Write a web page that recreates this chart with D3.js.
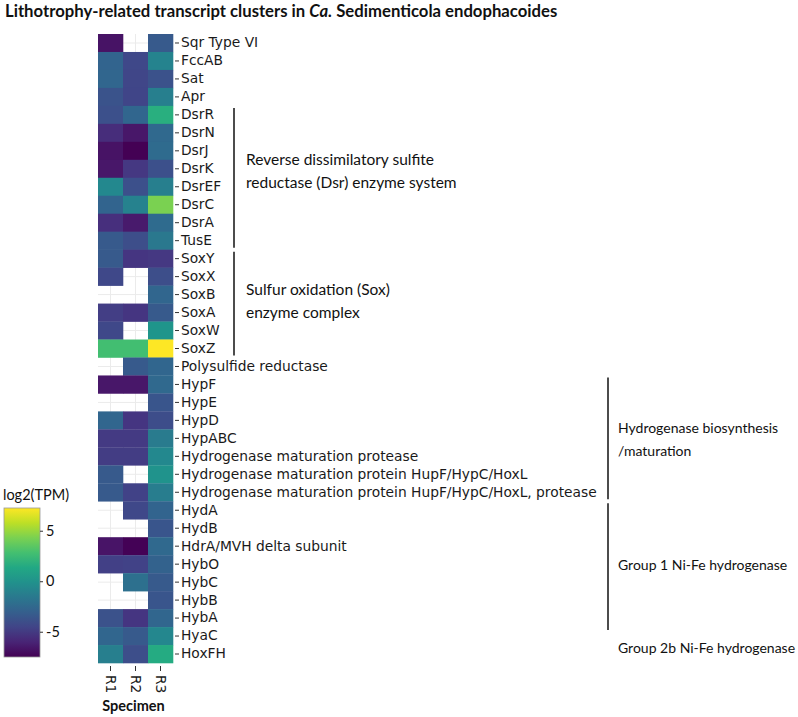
<!DOCTYPE html>
<html>
<head>
<meta charset="utf-8">
<script src="https://cdn.jsdelivr.net/npm/d3@7"></script>
<style>
  body { margin: 0; background: #fff; }
  svg { display: block; }
</style>
</head>
<body>
<div id="chart"></div>
<script>
// genes top to bottom
const genes = [
  "Sqr Type VI", "FccAB", "Sat", "Apr", "DsrR", "DsrN", "DsrJ", "DsrK", "DsrEF", "DsrC",
  "DsrA", "TusE", "SoxY", "SoxX", "SoxB", "SoxA", "SoxW", "SoxZ", "Polysulfide reductase",
  "HypF", "HypE", "HypD", "HypABC", "Hydrogenase maturation protease",
  "Hydrogenase maturation protein HupF/HypC/HoxL",
  "Hydrogenase maturation protein HupF/HypC/HoxL, protease",
  "HydA", "HydB", "HdrA/MVH delta subunit", "HybO", "HybC", "HybB", "HybA", "HyaC", "HoxFH"
];
const specimens = ["R1", "R2", "R3"];

// log2(TPM), null = not detected
const r1 = [-6.8, -2.8, -2.7, -3.7, -3.9, -5.6, -6.8, -6.6, -0.6, -2.8,
  -5.5, -3.4, -3.4, -4.3, null, -4.8, -4.3, 2.8, null,
  -6.6, null, -2.7, -5.0, -4.9, -3.4, -3.4,
  null, null, -6.7, -4.7, null, null, -3.8, -2.7, -1.2];
const r2 = [null, -4.3, -4.4, -4.5, -2.7, -6.6, -7.5, -5.1, -3.9, -1.0,
  -6.5, -4.0, -5.2, null, null, -5.2, null, 2.8, -3.4,
  -6.6, null, -5.2, -5.0, -4.9, null, -4.6,
  -4.3, null, -7.4, -4.6, -2.1, null, -5.2, -3.4, -4.0];
const r3 = [-3.4, -0.9, -3.8, -1.2, 1.8, -2.5, -2.4, -3.9, -1.2, 4.3,
  -2.4, -1.6, -5.1, -4.0, -2.7, -3.4, 0.2, 7.2, -2.7,
  -2.5, -3.6, -4.1, -1.4, -0.6, 0.1, -1.3,
  -2.8, -3.6, -2.5, -2.9, -3.4, -3.6, -2.7, -0.7, 1.5];
const series = [r1, r2, r3];

const colorDomain = [-7.5, 7.25];
const legendTicks = [5, 0, -5];

// bracket annotations: first gene, last gene, text lines, side
const groups = [
  {from: "DsrR", to: "TusE", lines: ["Reverse dissimilatory sulfite", "reductase (Dsr) enzyme system"], side: "left", shift: -6, size: 15.5},
  {from: "SoxY", to: "SoxZ", lines: ["Sulfur oxidation (Sox)", "enzyme complex"], side: "left", shift: -2, size: 15.5},
  {from: "HypF", to: "Hydrogenase maturation protein HupF/HypC/HoxL, protease", lines: ["Hydrogenase biosynthesis", "/maturation"], side: "right", shift: 1, size: 14},
  {from: "HydA", to: "HybA", lines: ["Group 1 Ni-Fe hydrogenase"], side: "right", shift: 1, size: 14, extend: 5},
  {from: "HyaC", to: "HoxFH", lines: ["Group 2b Ni-Fe hydrogenase"], side: "right", shift: 3, size: 14, noLine: true}
];

const W = 798, H = 717;
const panel = {left: 98, top: 34, width: 75, height: 629};

const svg = d3.select("#chart").append("svg")
  .attr("width", W).attr("height", H);

const x = d3.scaleBand().domain(specimens).range([panel.left, panel.left + panel.width]);
const y = d3.scaleBand().domain(genes).range([panel.top, panel.top + panel.height]);
const color = d3.scaleSequential(d3.interpolateViridis).domain(colorDomain);

// title
const title = svg.append("text")
  .attr("x", 5).attr("y", 17)
  .style("font-family", "Lato, 'Open Sans', sans-serif")
  .style("font-weight", "bold")
  .style("font-size", "16.7px")
  .style("fill", "#111");
title.append("tspan").text("Lithotrophy-related transcript clusters in ");
title.append("tspan").style("font-style", "italic").text("Ca.");
title.append("tspan").text(" Sedimenticola endophacoides");

// faint panel grid
const grid = svg.append("g");
grid.selectAll("line.h").data(genes).enter().append("line")
  .attr("x1", panel.left).attr("x2", panel.left + panel.width)
  .attr("y1", d => y(d) + y.bandwidth() / 2).attr("y2", d => y(d) + y.bandwidth() / 2)
  .style("stroke", "#ebebeb").style("stroke-width", 1);
grid.selectAll("line.v").data(specimens).enter().append("line")
  .attr("y1", panel.top).attr("y2", panel.top + panel.height)
  .attr("x1", d => x(d) + x.bandwidth() / 2).attr("x2", d => x(d) + x.bandwidth() / 2)
  .style("stroke", "#ebebeb").style("stroke-width", 1);

// cells
const cells = [];
specimens.forEach((s, j) => {
  genes.forEach((g, i) => {
    if (series[j][i] !== null) cells.push({gene: g, spec: s, v: series[j][i]});
  });
});
svg.append("g").selectAll("rect").data(cells).enter().append("rect")
  .attr("x", d => x(d.spec))
  .attr("y", d => y(d.gene))
  .attr("width", x.bandwidth() + 0.3)
  .attr("height", y.bandwidth() + 0.3)
  .style("fill", d => color(d.v));

// y axis on the right
const yAxis = svg.append("g")
  .attr("transform", "translate(" + (panel.left + panel.width + 2) + ",0)")
  .call(d3.axisRight(y).tickSize(4).tickPadding(2));
yAxis.select(".domain").remove();
yAxis.selectAll(".tick line").style("stroke", "#333");
yAxis.selectAll("text")
  .style("font-family", "'DejaVu Sans', Verdana, sans-serif")
  .style("font-size", "13.8px")
  .style("fill", "#1a1a1a");

// x axis at the bottom
const xAxis = svg.append("g")
  .attr("transform", "translate(0," + (panel.top + panel.height + 3) + ")")
  .call(d3.axisBottom(x).tickSize(5).tickPadding(4));
xAxis.select(".domain").remove();
xAxis.selectAll(".tick line").style("stroke", "#333");
xAxis.selectAll("text")
  .attr("transform", "rotate(90)")
  .attr("x", 9).attr("y", 0).attr("dy", "0.35em")
  .style("text-anchor", "start")
  .style("font-family", "'DejaVu Sans', Verdana, sans-serif")
  .style("font-size", "13.8px")
  .style("fill", "#1a1a1a");

svg.append("text")
  .attr("x", panel.left + panel.width / 2 - 2).attr("y", 711)
  .attr("text-anchor", "middle")
  .style("font-family", "Lato, 'Open Sans', sans-serif")
  .style("font-weight", "bold")
  .style("font-size", "14.5px")
  .style("fill", "#111")
  .text("Specimen");

// annotations
const annX = {left: 234, right: 608};
groups.forEach(gr => {
  const y0 = y(gr.from) + 2, y1 = y(gr.to) + y.bandwidth() - 2 + (gr.extend || 0);
  const lx = annX[gr.side];
  if (!gr.noLine) {
    svg.append("line")
      .attr("x1", lx).attr("x2", lx).attr("y1", y0).attr("y2", y1)
      .style("stroke", "#111").style("stroke-width", 1.5);
  }
  const mid = (y(gr.from) + y(gr.to) + y.bandwidth()) / 2 + gr.shift;
  const lh = 23;
  const startY = mid - (gr.lines.length - 1) * lh / 2 + 5;
  gr.lines.forEach((t, k) => {
    svg.append("text")
      .attr("x", lx + (gr.side === "left" ? 12 : 10))
      .attr("y", startY + k * lh)
      .style("font-family", "Lato, 'Open Sans', sans-serif")
      .style("font-size", gr.size + "px")
      .style("fill", "#111")
      .text(t);
  });
});

// legend
const leg = {x: 4, top: 508, width: 36};
const ly = d3.scaleLinear().domain(colorDomain).range([leg.top + 149, leg.top]);
const defs = svg.append("defs");
const grad = defs.append("linearGradient").attr("id", "viridisGrad")
  .attr("x1", "0%").attr("y1", "100%").attr("x2", "0%").attr("y2", "0%");
d3.range(0, 1.0001, 0.1).forEach(t => {
  grad.append("stop").attr("offset", (t * 100) + "%").attr("stop-color", d3.interpolateViridis(t));
});
svg.append("text")
  .attr("x", 3).attr("y", 500)
  .style("font-family", "Lato, 'Open Sans', sans-serif")
  .style("font-size", "14.5px")
  .style("fill", "#111")
  .text("log2(TPM)");
svg.append("rect")
  .attr("x", leg.x).attr("y", leg.top)
  .attr("width", leg.width).attr("height", 149)
  .style("fill", "url(#viridisGrad)")
  .style("stroke", "#999").style("stroke-width", 0.8);
const lAxis = svg.append("g")
  .attr("transform", "translate(" + (leg.x + leg.width) + ",0)")
  .call(d3.axisRight(ly).tickValues(legendTicks).tickFormat(d => String(d)).tickSize(3).tickPadding(3));
lAxis.select(".domain").remove();
lAxis.selectAll(".tick line").style("stroke", "#333");
lAxis.selectAll("text")
  .style("font-family", "Lato, 'Open Sans', sans-serif")
  .style("font-size", "14.5px")
  .style("fill", "#111");
</script>
</body>
</html>
